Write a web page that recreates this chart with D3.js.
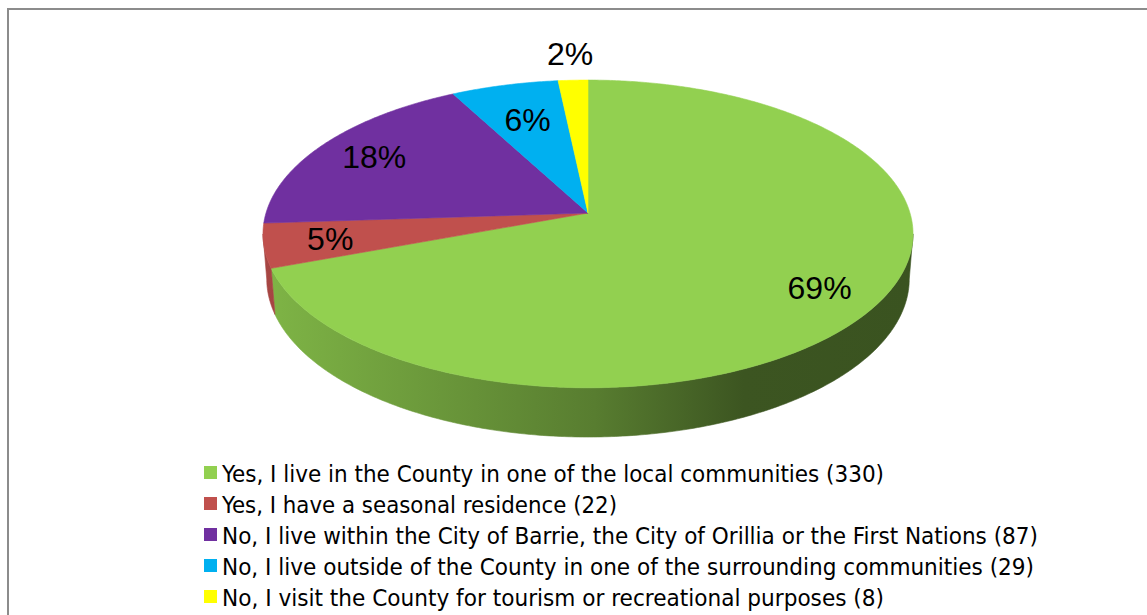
<!DOCTYPE html>
<html>
<head>
<meta charset="utf-8">
<script src="https://cdn.jsdelivr.net/npm/d3@7"></script>
<style>
  html, body { margin: 0; padding: 0; background: #ffffff; }
  svg { display: block; }
</style>
</head>
<body>
<svg id="chart" width="1147" height="615"></svg>
<script>
// Survey answers, counts and colours
const categories = [
  "Yes, I live in the County in one of the local communities (330)",
  "Yes, I have a seasonal residence (22)",
  "No, I live within the City of Barrie, the City of Orillia or the First Nations (87)",
  "No, I live outside of the County in one of the surrounding communities (29)",
  "No, I visit the County for tourism or recreational purposes (8)"
];
const counts = [330, 22, 87, 29, 8];
const colors = ["#92d050", "#c0504d", "#7030a0", "#00b0f0", "#ffff00"];

// Layout: legend text widths and label distance from the centre (fraction of radius)
const legendWidths = [662, 395, 816, 812, 662];
const labelRadius = [0.82, 0.8, 0.8, 0.7, 1.23];

const svg = d3.select("#chart");
const W = 1147, H = 615;

// Frame around the chart area
svg.append("rect")
  .attr("x", 8).attr("y", 9)
  .attr("width", W + 20).attr("height", H + 20)
  .attr("fill", "#ffffff")
  .attr("stroke", "#8c8c8c").attr("stroke-width", 2);

// 3D perspective projection of a unit disc lying flat, viewed from above-front
const cx = 588, cy = 213;
const phi = Math.asin(0.469);
const cosP = Math.cos(phi), sinP = Math.sin(phi);
const Dcam = cosP / 0.136;
const focal = 322 * Dcam;
const thick = 0.1586;

function project(a, r, z) {
  const x3 = r * Math.cos(a), y3 = r * Math.sin(a), z3 = z;
  const depth = Dcam + y3 * cosP - z3 * sinP;
  const up = y3 * sinP + z3 * cosP;
  return [cx + focal * x3 / depth, cy - focal * up / depth];
}
// pie angle (clockwise from 12 o'clock) -> angle on the disc
const toDisc = t => Math.PI / 2 - t;

const pie = d3.pie().sort(null).value(d => d).startAngle(0).endAngle(2 * Math.PI);
const arcs = pie(counts);
const total = d3.sum(counts);

const line = d3.line();

function arcPoints(t0, t1, r, z) {
  const n = Math.max(2, Math.ceil(Math.abs(t1 - t0) / 0.01));
  return d3.range(n + 1).map(i => project(toDisc(t0 + (t1 - t0) * i / n), r, z));
}

// Side shading: lighter on the left, darker to the right
const defs = svg.append("defs");
const xLeft = project(Math.PI + 0.1365, 1, 0)[0];
const xRight = project(-0.1365, 1, 0)[0];
const shadeStops = [[0, 0.87], [0.51, 0.60], [0.74, 0.41], [1, 0.40]];
colors.forEach((col, i) => {
  const g = defs.append("linearGradient")
    .attr("id", "side" + i)
    .attr("gradientUnits", "userSpaceOnUse")
    .attr("x1", xLeft).attr("x2", xRight).attr("y1", 0).attr("y2", 0);
  const base = d3.rgb(col);
  shadeStops.forEach(([o, f]) => {
    g.append("stop").attr("offset", o)
      .attr("stop-color", d3.rgb(base.r * f, base.g * f, base.b * f).formatHex());
  });
});

// Visible range of the outer wall (pie angles)
const ts = Math.asin(0.136);
const visLo = Math.PI / 2 + ts, visHi = 3 * Math.PI / 2 - ts;

const gSide = svg.append("g");
arcs.forEach((d, i) => {
  const t0 = Math.max(d.startAngle, visLo), t1 = Math.min(d.endAngle, visHi);
  if (t1 <= t0) return;
  const top = arcPoints(t0, t1, 1, 0);
  const bot = arcPoints(t1, t0, 1, -thick);
  gSide.append("path")
    .attr("d", line(top.concat(bot)) + "Z")
    .attr("fill", `url(#side${i})`)
    .attr("stroke", `url(#side${i})`).attr("stroke-width", 0.6);
});

// Top faces
const gTop = svg.append("g");
arcs.forEach((d, i) => {
  const pts = [[cx, cy]].concat(arcPoints(d.startAngle, d.endAngle, 1, 0));
  gTop.append("path")
    .attr("d", line(pts) + "Z")
    .attr("fill", colors[i])
    .attr("stroke", colors[i]).attr("stroke-width", 0.6)
    .attr("stroke-linejoin", "round");
});

// Percentage labels
const gLab = svg.append("g");
arcs.forEach((d, i) => {
  const share = d.value / total;
  const mid = (d.startAngle + d.endAngle) / 2;
  const [x, y] = project(toDisc(mid), labelRadius[i], 0);
  gLab.append("text")
    .attr("x", x).attr("y", y)
    .attr("text-anchor", "middle")
    .attr("dominant-baseline", "central")
    .attr("font-family", "'Liberation Sans', Arial, sans-serif")
    .attr("font-size", 32)
    .attr("fill", "#000000")
    .text(Math.round(share * 100) + "%");
});

// Legend
const legendY = d3.scalePoint().domain(d3.range(categories.length)).range([473, 597]);
const gLeg = svg.append("g");
categories.forEach((name, i) => {
  const y = legendY(i);
  gLeg.append("rect")
    .attr("x", 204).attr("y", y - 7)
    .attr("width", 13).attr("height", 13)
    .attr("fill", colors[i]);
  gLeg.append("text")
    .attr("x", 222).attr("y", y + 1)
    .attr("dominant-baseline", "central")
    .attr("font-family", "'Liberation Sans Narrow', 'DejaVu Sans Condensed', 'Liberation Sans', sans-serif")
    .attr("font-size", 23)
    .attr("textLength", legendWidths[i])
    .attr("lengthAdjust", "spacingAndGlyphs")
    .attr("fill", "#000000")
    .text(name);
});
</script>
</body>
</html>
